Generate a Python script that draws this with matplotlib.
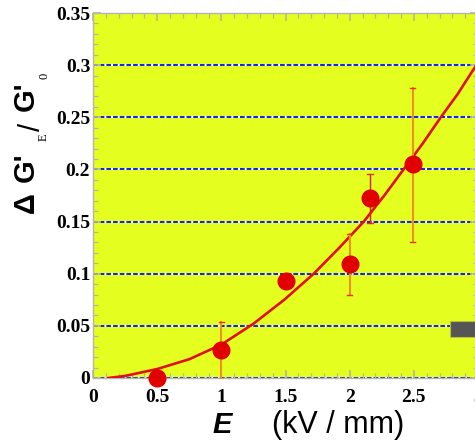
import matplotlib
matplotlib.use('Agg')
import matplotlib.pyplot as plt
from matplotlib.patches import Rectangle
from matplotlib.ticker import MultipleLocator, FixedFormatter, FixedLocator

# measured points
E_kv = [0.5, 1.0, 1.5, 2.0, 2.16, 2.49]
dG = [0.0, 0.027, 0.093, 0.109, 0.173, 0.205]
err_lo = [None, 0.0, None, 0.080, 0.149, 0.130]
err_hi = [None, 0.054, None, 0.138, 0.196, 0.278]

# fitted curve
fit_x = [0.12, 0.25, 0.5, 0.75, 1.0, 1.25, 1.49, 1.72, 1.92, 2.11, 2.27, 2.42, 2.57, 2.71, 2.84, 2.96, 3.0]
fit_y = [0.0, 0.002, 0.0086, 0.018, 0.032, 0.052, 0.075, 0.100, 0.125, 0.150, 0.175, 0.200, 0.225, 0.250, 0.272, 0.295, 0.302]

grid_y = [0, 0.05, 0.1, 0.15, 0.2, 0.25, 0.3]
xticks = [0, 0.5, 1, 1.5, 2, 2.5, 3]
xticklabels = ['0', '0.5', '1', '1.5', '2', '2.5', '3']
yticks = [0, 0.05, 0.1, 0.15, 0.2, 0.25, 0.3, 0.35]
yticklabels = ['0', '0.05', '0.1', '0.15', '0.2', '0.25', '0.3', '0.35']

W, H = 475, 443
fig = plt.figure(figsize=(W / 100, H / 100), dpi=100)
ax = fig.add_axes([93 / W, (H - 378) / H, 385 / W, 365 / H])
ax.set_facecolor('#E4FF1F')
ax.set_xlim(0, 3)
ax.set_ylim(0, 0.35)

for sp in ax.spines.values():
    sp.set_color('#b4b4b4')
    sp.set_linewidth(1.0)

# grid lines: white base with blue dashes
for g in grid_y:
    ax.axhline(g, color='white', lw=1.3, zorder=1)
    ax.axhline(g, color='#0010e0', lw=1.3, dashes=(2.6, 1.1), zorder=1.1)

ax.xaxis.set_major_locator(FixedLocator(xticks))
ax.xaxis.set_major_formatter(FixedFormatter(xticklabels))
ax.xaxis.set_minor_locator(MultipleLocator(0.1))
ax.yaxis.set_major_locator(FixedLocator(yticks))
ax.yaxis.set_major_formatter(FixedFormatter(yticklabels))
ax.yaxis.set_minor_locator(MultipleLocator(0.01))
ax.tick_params(which='both', direction='in', top=True, right=True, color='#b8b890')
ax.tick_params(which='major', length=6, width=1.2)
ax.tick_params(which='minor', length=3.5, width=0.9)
ax.tick_params(axis='x', which='major', pad=8)
ax.tick_params(axis='y', which='major', pad=2)
for lab in ax.get_xticklabels() + ax.get_yticklabels():
    lab.set_fontfamily('Liberation Serif')
    lab.set_fontweight('bold')
    lab.set_fontsize(14)

# grey box at right (cut-off legend)
ax.add_patch(Rectangle((2.78, 0.039), 0.3, 0.0155, facecolor='#555555',
                       edgecolor='#b8c040', lw=0.8, zorder=2))

# fit curve
ax.plot(fit_x, fit_y, color='#e01010', lw=1.9, zorder=3)

# error bars
bar_colors = ['#f09020', '#f09020', '#f09020', '#f09020', '#e01818', '#f09020']
bar_widths = [1.5, 1.5, 1.5, 1.5, 1.0, 1.5]
for x, lo, hi, c, w in zip(E_kv, err_lo, err_hi, bar_colors, bar_widths):
    if lo is None:
        continue
    ax.plot([x, x], [lo, hi], color=c, lw=w, zorder=3.5, clip_on=False)
    ax.plot([x - 0.022, x + 0.022], [hi, hi], color='#e83010', lw=1.0, zorder=3.5)
    ax.plot([x - 0.022, x + 0.022], [lo, lo], color='#e83010', lw=1.0, zorder=3.5)

ax.plot(E_kv, dG, 'o', color='#e00000', ms=12, mec='#e00000', zorder=4, clip_on=False)

# y label pieces (rotated)
def ftxt(x, y, s, **kw):
    fig.text(x / W, 1 - y / H, s, ha='center', va='center', rotation=90, **kw)

bold = dict(family='Liberation Sans', fontweight='bold', fontsize=21)
sub = dict(family='Liberation Serif', fontsize=9)
ftxt(26, 203, '\u0394', **bold)
ftxt(26, 167, "G'", **bold)
ftxt(44, 137, 'E', **sub)
ftxt(32, 127, '/', family='Liberation Sans', fontsize=21)
ftxt(26, 96, "G'", **bold)
ftxt(45, 76, '0', **sub)

# x label
fig.text(222 / W, 1 - 425 / H, 'E', ha='center', va='center', family='Liberation Sans',
         fontweight='bold', fontstyle='italic', fontsize=21)
fig.text(338 / W, 1 - 425 / H, '(kV / mm)', ha='center', va='center',
         family='Liberation Sans', fontsize=22)

fig.savefig('out.png', dpi=100)
